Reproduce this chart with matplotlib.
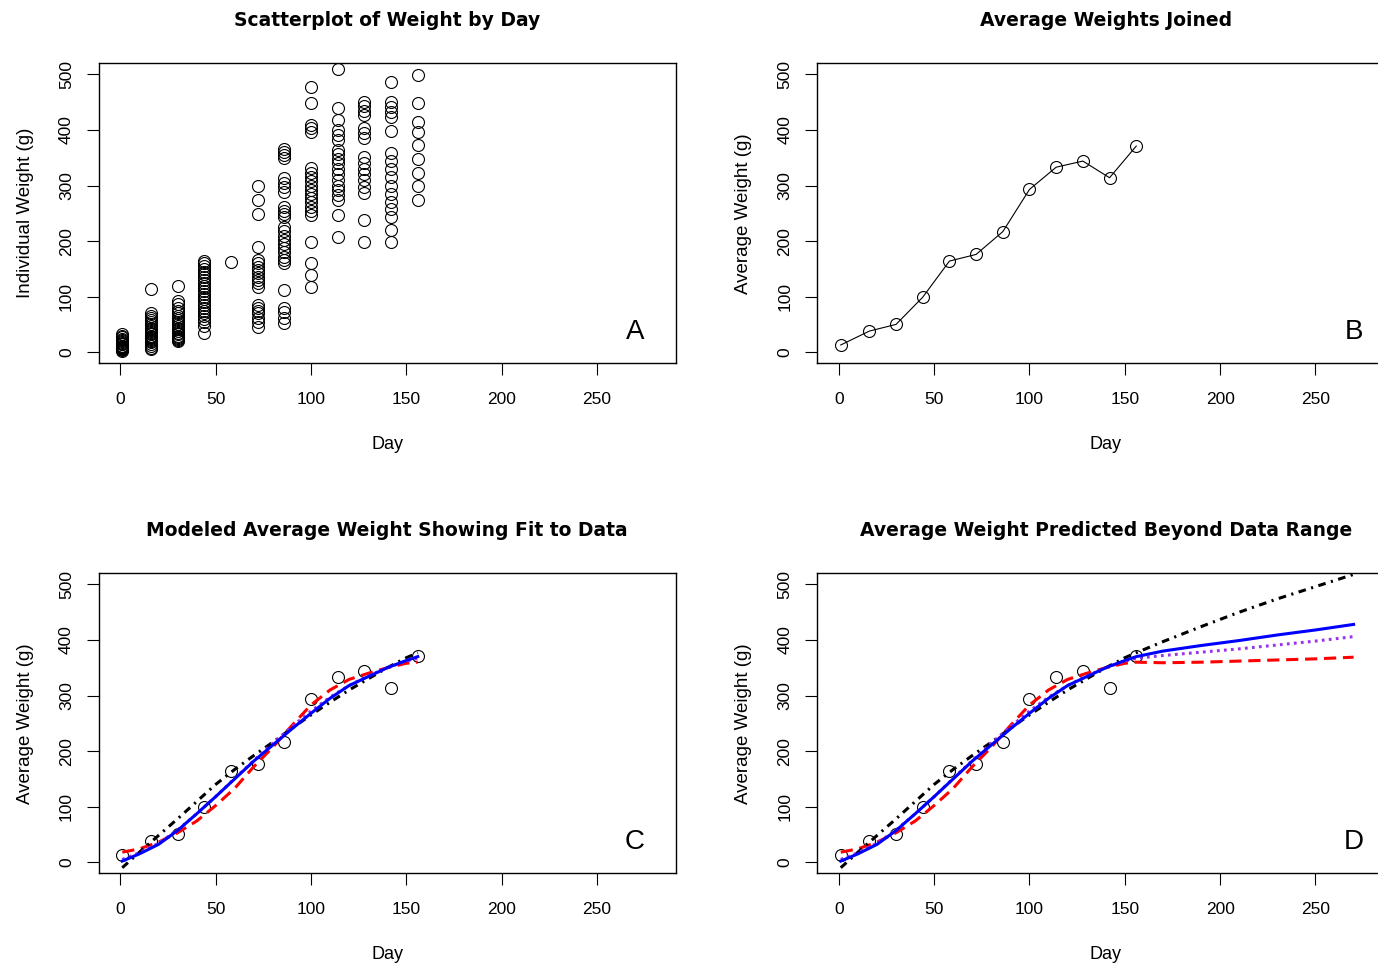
import numpy as np
import matplotlib
matplotlib.use("Agg")
import matplotlib.pyplot as plt

plt.rcParams['font.family'] = ['Liberation Sans', 'DejaVu Sans']

# Individual weights (g) by sampling day
w_day1 = [33, 30, 27, 24, 22, 20, 18, 16, 15, 14, 12, 11, 10, 9, 8, 7, 6, 5, 5, 4, 3]
w_day16 = [113, 70, 66, 62, 58, 54, 50, 47, 44, 41, 38, 35, 32, 30, 28, 26, 24, 22, 20, 18, 15, 12, 8, 5]
w_day30 = [120, 93, 86, 80, 75, 70, 66, 62, 58, 54, 50, 47, 44, 41, 38, 35, 32, 30, 28, 26, 24, 22, 20]
w_day44 = [165, 160, 155, 150, 145, 140, 135, 130, 125, 120, 115, 110, 105, 100, 95, 90, 85, 80, 75,
           70, 65, 60, 55, 48, 34]
w_day58 = [163]
w_day72 = [299, 274, 249, 190, 166, 160, 154, 148, 142, 136, 130, 124, 118, 85, 80, 75, 70, 62, 55, 46]
w_day86 = [366, 360, 355, 350, 313, 305, 298, 289, 262, 255, 248, 244, 226, 218, 210, 202, 195, 188,
           180, 172, 166, 160, 112, 80, 72, 62, 52]
w_day100 = [478, 449, 409, 403, 397, 331, 322, 315, 308, 300, 292, 285, 278, 270, 262, 255, 247, 199,
            160, 139, 118]
w_day114 = [509, 439, 418, 400, 391, 382, 364, 356, 348, 340, 330, 320, 310, 300, 292, 283, 274, 247, 208]
w_day128 = [451, 443, 435, 427, 403, 394, 385, 352, 340, 330, 320, 310, 298, 286, 238, 199]
w_day142 = [487, 451, 442, 433, 424, 398, 358, 345, 330, 315, 300, 285, 270, 258, 244, 220, 199]
w_day156 = [499, 449, 415, 397, 373, 348, 322, 299, 274]

days = [1, 16, 30, 44, 58, 72, 86, 100, 114, 128, 142, 156]
ind_weights = [w_day1, w_day16, w_day30, w_day44, w_day58, w_day72, w_day86,
               w_day100, w_day114, w_day128, w_day142, w_day156]

# Average weight per day
avg_weight = [13, 38, 50, 99, 164, 176, 217, 293, 333, 344, 314, 371]

# Fitted / predicted curves
pred_days = [1, 10, 20, 30, 40, 50, 60, 70, 80, 90, 100, 110, 120, 130, 140, 150, 156,
             170, 190, 210, 230, 250, 270]
fit_black = [-10, 18, 48, 78, 109, 140, 167, 192, 216, 241, 265, 288, 310, 330, 350, 368, 377,
             397, 424, 450, 474, 496, 518]
fit_blue = [2, 15, 32, 57, 87, 118, 150, 182, 211, 240, 268, 295, 318, 334, 350, 363, 370,
            380, 390, 399, 409, 418, 428]
fit_purple = [5, 17, 34, 58, 87, 118, 151, 183, 214, 244, 272, 297, 318, 335, 350, 362, 367,
              372, 378, 384, 391, 398, 406]
fit_red = [18, 24, 36, 53, 74, 102, 133, 172, 207, 246, 283, 310, 329, 340, 350, 358, 360,
           359, 360, 362, 364, 366, 369]

fig = plt.figure(figsize=(13.78, 9.66), dpi=100)

W = 576.5 / 1378
H = 300 / 966
positions = {
    'A': [99 / 1378, 1 - 363.3 / 966, W, H],
    'B': [817.5 / 1378, 1 - 363.3 / 966, W, H],
    'C': [99 / 1378, 1 - 873.3 / 966, W, H],
    'D': [817.5 / 1378, 1 - 873.3 / 966, W, H],
}
titles = {
    'A': 'Scatterplot of Weight by Day',
    'B': 'Average Weights Joined',
    'C': 'Modeled Average Weight Showing Fit to Data',
    'D': 'Average Weight Predicted Beyond Data Range',
}
ylabels = {'A': 'Individual Weight (g)', 'B': 'Average Weight (g)',
           'C': 'Average Weight (g)', 'D': 'Average Weight (g)'}

circ = dict(marker='o', markersize=8.6, markerfacecolor='none', markeredgecolor='black',
            markeredgewidth=0.8)

axes = {}
for key in ['A', 'B', 'C', 'D']:
    ax = fig.add_axes(positions[key])
    axes[key] = ax
    ax.set_xlim(-11.2, 291.2)
    ax.set_ylim(-20, 520)
    ax.set_xticks([0, 50, 100, 150, 200, 250])
    ax.set_yticks([0, 100, 200, 300, 400, 500])
    ax.tick_params(direction='out', length=8.5, width=0.8, labelsize=12.5, pad=12)
    ax.tick_params(axis='y', pad=9.5)
    for lab in ax.get_yticklabels():
        lab.set_rotation(90)
        lab.set_va('center')
    for sp in ax.spines.values():
        sp.set_linewidth(1.0)
    ax.set_title(titles[key], fontsize=13.5, fontweight='bold', family='DejaVu Sans', pad=27)
    ax.set_xlabel('Day', fontsize=13, labelpad=21)
    ax.set_ylabel(ylabels[key], fontsize=13.5, labelpad=18)
    ax.text(270, 37, key, fontsize=20, ha='center', va='center')

# A: individual weights
axA = axes['A']
for d, ws in zip(days, ind_weights):
    axA.plot([d] * len(ws), ws, linestyle='none', **circ)

# B: averages joined
axB = axes['B']
axB.plot(days, avg_weight, color='black', linewidth=0.8, **circ)

# C and D: models
line_styles = [
    (fit_red, dict(color='red', dashes=(4, 2.2))),
    (fit_black, dict(color='black', dashes=(2.5, 1.8, 0.7, 1.8))),
    (fit_purple, dict(color='#9933ee', dashes=(0.9, 1.4))),
    (fit_blue, dict(color='blue')),
]
pd_arr = np.array(pred_days)
for key in ['C', 'D']:
    ax = axes[key]
    ax.plot(days, avg_weight, linestyle='none', **circ)
    mask = pd_arr <= 156 if key == 'C' else np.ones_like(pd_arr, dtype=bool)
    for vals, st in line_styles:
        ax.plot(pd_arr[mask], np.array(vals)[mask], linewidth=2.2, **st)

fig.savefig('out.png', dpi=100)
